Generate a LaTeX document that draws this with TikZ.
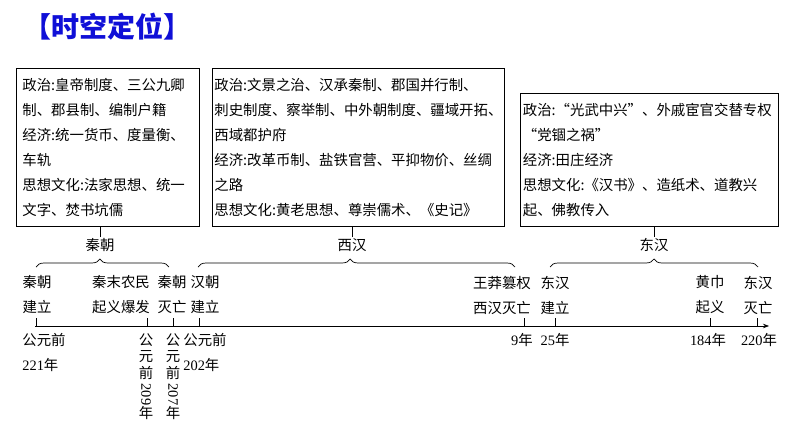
\documentclass[tikz,border=0pt]{standalone}
\usepackage{fontspec}
\setmainfont{Noto Sans CJK SC}
\newfontfamily\numfont{Liberation Serif}
\usetikzlibrary{arrows.meta}
\usetikzlibrary{decorations.pathreplacing}
\definecolor{titleblue}{RGB}{15,15,215}

\tikzset{
  infobox/.style={draw, line width=0.8pt, anchor=south west, align=left, inner xsep=2pt, inner ysep=10pt, font=\fontsize{14.4}{25}\selectfont},
  era/.style={font=\fontsize{14.4}{17}\selectfont, inner sep=1pt},
  event/.style={align=center, font=\fontsize{14.4}{25}\selectfont, inner sep=0pt},
  datelabel/.style={align=left, anchor=west, font=\fontsize{14.4}{25}\selectfont, inner sep=0pt},
  vdate/.style={align=center, anchor=north, font=\fontsize{14.4}{16.5}\selectfont, inner sep=0pt},
  brc/.style={decorate, line width=0.7pt},
}

\begin{document}
\begin{tikzpicture}[x=1pt, y=-1pt, line width=0.7pt]
      \useasboundingbox (0,0) rectangle (794,447);

      \node[anchor=west, text=titleblue, inner sep=0pt, font=\fontsize{28}{28}\selectfont\bfseries] (title) at (23,27){【时空定位】};

      \node[infobox, inner xsep=6pt, text width=171pt] (box1) at (16,227){政治:皇帝制度、三公九卿\\制、郡县制、编制户籍\\经济:统一货币、度量衡、\\车轨\\思想文化:法家思想、统一\\文字、焚书坑儒};
      \node[infobox, text width=288pt] (box2) at (212,227){政治:文景之治、汉承秦制、郡国并行制、\\刺史制度、察举制、中外朝制度、疆域开拓、\\西域都护府\\经济:改革币制、盐铁官营、平抑物价、丝绸\\之路\\思想文化:黄老思想、尊崇儒术、《史记》};
      \node[infobox, inner xsep=2.5pt, text width=253pt] (box3) at (520,227){政治:“光武中兴”、外戚宦官交替专权\\“党锢之祸”\\经济:田庄经济\\思想文化:《汉书》、造纸术、道教兴\\起、佛教传入};

      \node[era] (qin) at (100,245){秦朝};
      \node[era] (xihan) at (352,245){西汉};
      \node[era] (donghan) at (654,245){东汉};

      \draw (qin.north) -- (qin.north |- box1.south);
      \draw (xihan.north) -- (xihan.north |- box2.south);
      \draw (donghan.north) -- (donghan.north |- box3.south);

      \coordinate (b1l) at (36,267);
      \coordinate (b1r) at (169,267);
      \coordinate (b2l) at (198,267);
      \coordinate (b2r) at (515,267);
      \coordinate (b3l) at (550,267);
      \coordinate (b3r) at (758,267);
      \draw[brc, decoration={brace, amplitude=8pt, aspect=0.48}] (b1l) -- (b1r);
      \draw[brc, decoration={brace, amplitude=8pt, aspect=0.48}] (b2l) -- (b2r);
      \draw[brc, decoration={brace, amplitude=8pt}] (b3l) -- (b3r);

      \coordinate (t0) at (35,326);
      \coordinate (t1) at (769,326);
      \draw[-{Stealth[length=6pt, width=4.5pt]}] (t0) -- (t1);
      \foreach \x in {36,147,173,199,524,555,710,757}
        \draw (\x,326) -- (\x,318);

      \node[event] (e1) at (37,295){秦朝\\建立};
      \node[event] (e2) at (121,295){秦末农民\\起义爆发};
      \node[event] (e3) at (172,295){秦朝\\灭亡};
      \node[event] (e4) at (205,295){汉朝\\建立};
      \node[event] (e5) at (502,295){王莽篡权\\西汉灭亡};
      \node[event] (e6) at (555,295){东汉\\建立};
      \node[event] (e7) at (710,295){黄巾\\起义};
      \node[event] (e8) at (758,295){东汉\\灭亡};

      \node[datelabel] (d1) at (22,352){公元前\\{\numfont 221}年};
      \node[vdate] (d2) at (146,333){公\\元\\前\\\raisebox{11pt}{\rotatebox{-90}{\numfont 209}}\\年};
      \node[vdate] (d3) at (173,333){公\\元\\前\\\raisebox{11pt}{\rotatebox{-90}{\numfont 207}}\\年};
      \node[datelabel] (d4) at (183,352){公元前\\{\numfont 202}年};
      \node[event] (d5) at (522,340){{\numfont 9}年};
      \node[event] (d6) at (555,340){{\numfont 25}年};
      \node[event] (d7) at (708,340){{\numfont 184}年};
      \node[event] (d8) at (759,340){{\numfont 220}年};
    \end{tikzpicture}
\end{document}
